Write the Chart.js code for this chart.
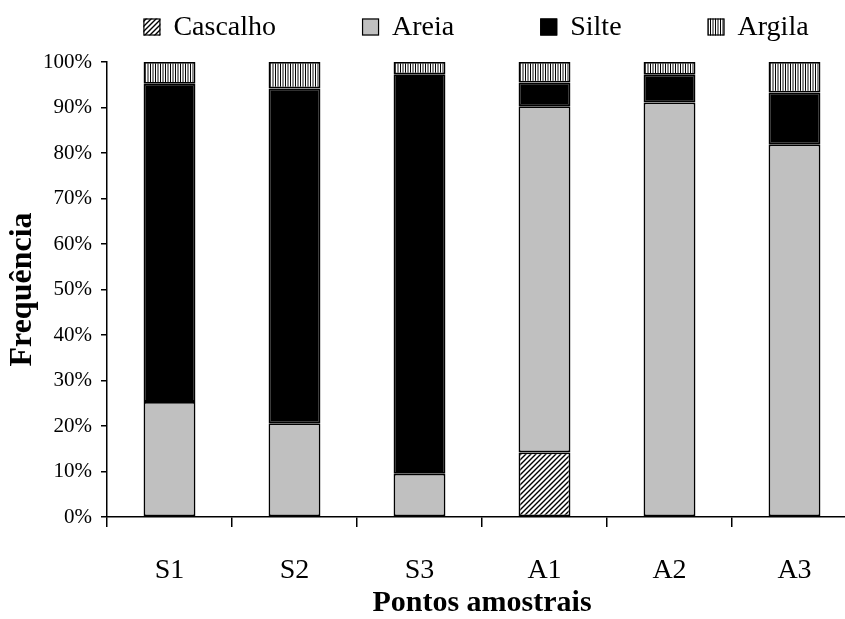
<!DOCTYPE html>
<html>
<head>
<meta charset="utf-8">
<script src="https://cdn.jsdelivr.net/npm/chart.js@4/dist/chart.umd.min.js"></script>
<style>
  html, body { margin: 0; padding: 0; background: #fff; overflow: hidden; }
  #wrap { width: 860px; height: 619px; }
</style>
</head>
<body>
<div id="wrap"><canvas id="grafico" width="860" height="619"></canvas></div>
<script>
// Granulometria por ponto amostral (% de cada fracao); null = fracao ausente
const pontos = ['S1', 'S2', 'S3', 'A1', 'A2', 'A3'];
const cascalho = [null, null, null, 14.2, null, null];
const areia = [25.3, 20.6, 9.5, 76.1, 91.1, 81.9];
const silte = [69.9, 73.6, 87.8, 5.2, 6.1, 11.4];
const argila = [4.8, 5.8, 2.7, 4.5, 2.8, 6.7];
const yTicks = [0, 10, 20, 30, 40, 50, 60, 70, 80, 90, 100];

const FONTE = "'Liberation Serif', 'Times New Roman', serif";

// hachura diagonal para cascalho
const hachuraDiagonal = () => {
    const c = document.createElement('canvas');
    c.width = 5; c.height = 5;
    const g = c.getContext('2d');
    g.fillStyle = '#fff';
    g.fillRect(0, 0, 5, 5);
    g.strokeStyle = '#000';
    g.lineWidth = 1.4;
    g.beginPath();
    g.moveTo(-1, 6); g.lineTo(6, -1);
    g.moveTo(-1, 1); g.lineTo(1, -1);
    g.moveTo(4, 6); g.lineTo(6, 4);
    g.stroke();
    return g.createPattern(c, 'repeat');
};

// listras verticais para argila
const listrasVerticais = () => {
    const c = document.createElement('canvas');
    c.width = 5; c.height = 2;
    const g = c.getContext('2d');
    const cols = ['#000', '#fff', '#888', '#888', '#fff'];
    cols.forEach((cor, i) => { g.fillStyle = cor; g.fillRect(i, 0, 1, 2); });
    return g.createPattern(c, 'repeat');
};

const corCascalho = hachuraDiagonal();
const corArgila = listrasVerticais();

// legenda no topo, centrada sobre a area do grafico
const legendaTopo = {
    id: 'legendaTopo',
    afterDraw(chart) {
        const ctx = chart.ctx;
        const area = chart.chartArea;
        const box = 17, gapTexto = 13, gapItem = 86;
        ctx.save();
        ctx.font = `28px ${FONTE}`;
        ctx.textBaseline = 'middle';
        const itens = chart.data.datasets.map(ds => ({
            ds, w: ctx.measureText(ds.label).width
        }));
        const total = itens.reduce((s, it) => s + box + gapTexto + it.w, 0) + gapItem * (itens.length - 1);
        let x = (area.left + area.right) / 2 - total / 2 - 6;
        const y = 27;
        itens.forEach(({ ds, w }) => {
            ctx.fillStyle = ds.backgroundColor;
            ctx.fillRect(x, y - box / 2, box, box);
            ctx.strokeStyle = '#000';
            ctx.lineWidth = 1.2;
            ctx.strokeRect(x + 0.5, y - box / 2 + 0.5, box - 1, box - 1);
            ctx.fillStyle = '#000';
            ctx.fillText(ds.label, x + box + gapTexto, y + 1);
            x += box + gapTexto + w + gapItem;
        });
        ctx.restore();
    }
};

const serie = (label, data, cor) => ({
    label: label,
    data: data,
    backgroundColor: cor,
    borderColor: '#000',
    borderWidth: 1.8,
    borderSkipped: false,
    barPercentage: 0.415,
    categoryPercentage: 1
});

new Chart(document.getElementById('grafico').getContext('2d'), {
    type: 'bar',
    data: {
        labels: pontos,
        datasets: [
            serie('Cascalho', cascalho, corCascalho),
            serie('Areia', areia, '#c0c0c0'),
            serie('Silte', silte, '#000'),
            serie('Argila', argila, corArgila)
        ]
    },
    options: {
        responsive: false,
        animation: false,
        layout: { padding: { top: 62, right: 3, left: 0, bottom: 0 } },
        plugins: {
            legend: { display: false },
            tooltip: { enabled: false }
        },
        scales: {
            x: {
                stacked: true,
                afterFit: (scale) => { scale.height = 102; },
                grid: {
                    display: true,
                    offset: true,
                    drawOnChartArea: false,
                    drawTicks: true,
                    tickLength: 10,
                    color: '#000',
                    lineWidth: 1.5
                },
                border: { display: true, color: '#000', width: 1.5 },
                ticks: {
                    color: '#000',
                    font: { family: FONTE, size: 28 },
                    padding: 27,
                    maxRotation: 0
                },
                title: {
                    display: true,
                    text: 'Pontos amostrais',
                    color: '#000',
                    font: { family: FONTE, size: 30, weight: 'bold' },
                    padding: { top: 0, bottom: -2 }
                }
            },
            y: {
                stacked: true,
                min: 0,
                max: 100,
                afterFit: (scale) => { scale.width = 107; },
                afterBuildTicks: (scale) => { scale.ticks = yTicks.map(v => ({ value: v })); },
                grid: {
                    display: true,
                    drawOnChartArea: false,
                    drawTicks: true,
                    tickLength: 6,
                    color: '#000',
                    lineWidth: 1.5
                },
                border: { display: true, color: '#000', width: 1.5 },
                ticks: {
                    color: '#000',
                    font: { family: FONTE, size: 21 },
                    padding: 9,
                    callback: (v) => v + '%'
                },
                title: {
                    display: true,
                    text: 'Frequência',
                    color: '#000',
                    font: { family: FONTE, size: 32, weight: 'bold' },
                    padding: { top: 4, bottom: 0 }
                }
            }
        }
    },
    plugins: [legendaTopo]
});
</script>
</body>
</html>
